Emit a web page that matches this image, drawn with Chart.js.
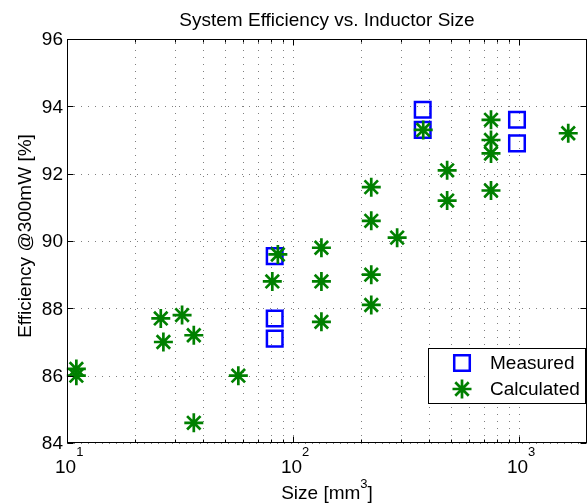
<!DOCTYPE html>
<html>
<head>
<meta charset="utf-8">
<script src="https://cdn.jsdelivr.net/npm/chart.js@4/dist/chart.umd.min.js"></script>
<style>
  html, body { margin: 0; padding: 0; background: #fff; }
  #wrap { width: 587px; height: 504px; }
</style>
</head>
<body>
<div id="wrap"><canvas id="effChart" width="587" height="504"></canvas></div>
<script>
// measured boards
const measuredSize = [83, 83, 83, 375, 375, 980, 980];
const measuredEff = [89.55, 87.7, 87.1, 93.9, 93.3, 93.6, 92.9];

// calculated designs
const calcSize = [11, 11, 26, 26.7, 32.3, 36.4, 36.4, 57.3, 81, 85.7,
  133.6, 133.6, 133.6, 222, 222, 222, 222, 289, 377, 481, 481,
  752, 752, 752, 752, 1652];
const calcEff = [86.0, 86.2, 87.7, 87.0, 87.8, 87.2, 84.6, 86.0, 88.8, 89.6,
  89.8, 88.8, 87.6, 91.6, 90.6, 89.0, 88.1, 90.1, 93.3, 92.1, 91.2,
  93.6, 93.0, 92.6, 91.5, 93.2];

// axes
const xDecades = [1, 2, 3];
const yTicks = [84, 86, 88, 90, 92, 94, 96];
const xMin = 10, xMax = 2000;

const FONT = '"Liberation Sans", Arial, Helvetica, sans-serif';
const BLUE = '#0000ff';
const GREEN = '#008000';

function toPoints(xs, ys) {
  return xs.map((x, i) => ({ x: x, y: ys[i] }));
}

// minor positions 2..9 x 10^n inside the x range
function logMinor() {
  const out = [];
  for (let e = 1; e <= 3; e++) {
    for (let m = 2; m <= 9; m++) {
      const v = m * Math.pow(10, e);
      if (v > xMin && v < xMax) out.push(v);
    }
  }
  return out;
}

const matlabAxes = {
  id: 'matlabAxes',
  beforeDatasetsDraw(chart) {
    const { ctx, chartArea: a, scales } = chart;
    const xs = scales.x, ys = scales.y;
    ctx.save();
    ctx.lineWidth = 1;
    ctx.strokeStyle = 'rgba(0,0,0,0.5)';
    ctx.setLineDash([1, 6]);
    const vert = logMinor().concat(xDecades.map(e => Math.pow(10, e)));
    vert.forEach(v => {
      const px = Math.round(xs.getPixelForValue(v)) + 0.5;
      ctx.beginPath();
      ctx.moveTo(px, a.bottom);
      ctx.lineTo(px, a.top);
      ctx.stroke();
    });
    yTicks.forEach(v => {
      const py = Math.round(ys.getPixelForValue(v)) + 0.5;
      ctx.beginPath();
      ctx.moveTo(a.left, py);
      ctx.lineTo(a.right, py);
      ctx.stroke();
    });
    ctx.restore();
  },
  afterDatasetsDraw(chart) {
    const { ctx, chartArea: a, scales } = chart;
    const xs = scales.x, ys = scales.y;
    ctx.save();
    ctx.setLineDash([]);
    ctx.strokeStyle = '#000';
    ctx.lineWidth = 1;

    // frame
    const L = a.left + 0.5, R = a.right - 0.5, T = a.top + 0.5, B = a.bottom - 0.5;
    ctx.strokeRect(L, T, R - L, B - T);

    // tick marks, pointing inward on all four sides
    ctx.beginPath();
    xDecades.forEach(e => {
      const px = Math.round(xs.getPixelForValue(Math.pow(10, e))) + 0.5;
      ctx.moveTo(px, B); ctx.lineTo(px, B - 6);
      ctx.moveTo(px, T); ctx.lineTo(px, T + 6);
    });
    logMinor().forEach(v => {
      const px = Math.round(xs.getPixelForValue(v)) + 0.5;
      ctx.moveTo(px, B); ctx.lineTo(px, B - 3);
      ctx.moveTo(px, T); ctx.lineTo(px, T + 3);
    });
    yTicks.forEach(v => {
      const py = Math.round(ys.getPixelForValue(v)) + 0.5;
      ctx.moveTo(L, py); ctx.lineTo(L + 6, py);
      ctx.moveTo(R, py); ctx.lineTo(R - 6, py);
    });
    ctx.stroke();

    // y tick labels
    ctx.fillStyle = '#000';
    ctx.font = '19px ' + FONT;
    ctx.textAlign = 'right';
    ctx.textBaseline = 'middle';
    yTicks.forEach(v => {
      ctx.fillText(String(v), a.left - 4, ys.getPixelForValue(v) + 1);
    });

    // x tick labels as 10^n
    ctx.textBaseline = 'alphabetic';
    ctx.textAlign = 'left';
    xDecades.forEach(e => {
      const px = xs.getPixelForValue(Math.pow(10, e));
      ctx.font = '19px ' + FONT;
      const w = ctx.measureText('10').width;
      ctx.fillText('10', px - 12, a.bottom + 30);
      ctx.font = '13px ' + FONT;
      ctx.fillText(String(e), px - 12 + w, a.bottom + 13);
    });

    // x axis title with superscript
    const t1 = 'Size [mm', t3 = ']';
    ctx.font = '19px ' + FONT;
    const w1 = ctx.measureText(t1).width, w3 = ctx.measureText(t3).width;
    ctx.font = '13px ' + FONT;
    const w2 = ctx.measureText('3').width;
    const sx = (a.left + a.right) / 2 - (w1 + w2 + w3) / 2;
    ctx.font = '19px ' + FONT;
    ctx.fillText(t1, sx, 499);
    ctx.font = '13px ' + FONT;
    ctx.fillText('3', sx + w1, 488);
    ctx.font = '19px ' + FONT;
    ctx.fillText(t3, sx + w1 + w2, 499);

    // y axis title
    ctx.save();
    ctx.translate(31, 236);
    ctx.rotate(-Math.PI / 2);
    ctx.textAlign = 'center';
    ctx.fillText('Efficiency @300mW [%]', 0, 0);
    ctx.restore();

    // title
    ctx.textAlign = 'center';
    ctx.fillText('System Efficiency vs. Inductor Size', (a.left + a.right) / 2, 26);

    // legend box
    const lx = 428.5, ly = 348.5, lw = 157, lh = 55;
    ctx.fillStyle = '#fff';
    ctx.fillRect(lx, ly, lw, lh);
    ctx.strokeRect(lx, ly, lw, lh);
    ctx.restore();

    // legend markers and text
    ctx.save();
    ctx.lineWidth = 2.5;
    ctx.strokeStyle = BLUE;
    ctx.fillStyle = 'rgba(0,0,0,0)';
    Chart.helpers.drawPoint(ctx, { pointStyle: 'rect', radius: 11, borderWidth: 2.5, rotation: 0 }, 462, 363);
    ctx.strokeStyle = GREEN;
    ctx.lineWidth = 2.7;
    Chart.helpers.drawPoint(ctx, { pointStyle: 'star', radius: 9.5, borderWidth: 2.7, rotation: 0 }, 462, 389);
    ctx.fillStyle = '#000';
    ctx.font = '19px ' + FONT;
    ctx.textAlign = 'left';
    ctx.textBaseline = 'middle';
    ctx.fillText('Measured', 490, 364);
    ctx.fillText('Calculated', 490, 390);
    ctx.restore();
  }
};

new Chart(document.getElementById('effChart'), {
  type: 'scatter',
  data: {
    datasets: [
      {
        label: 'Calculated',
        data: toPoints(calcSize, calcEff),
        pointStyle: 'star',
        pointRadius: 9.5,
        pointBorderWidth: 2.7,
        borderColor: GREEN,
        backgroundColor: GREEN,
        clip: false,
      },
      {
        label: 'Measured',
        data: toPoints(measuredSize, measuredEff),
        pointStyle: 'rect',
        pointRadius: 11,
        pointBorderWidth: 2.5,
        borderColor: BLUE,
        backgroundColor: 'rgba(0,0,0,0)',
        clip: false,
      },
    ],
  },
  options: {
    responsive: false,
    animation: false,
    layout: {
      autoPadding: false,
      padding: { left: 67, top: 39, right: 0, bottom: 61 },
    },
    scales: {
      x: { type: 'logarithmic', min: xMin, max: xMax, display: false },
      y: { type: 'linear', min: 84, max: 96, display: false },
    },
    plugins: {
      legend: { display: false },
      tooltip: { enabled: false },
    },
  },
  plugins: [matlabAxes],
});
</script>
</body>
</html>
